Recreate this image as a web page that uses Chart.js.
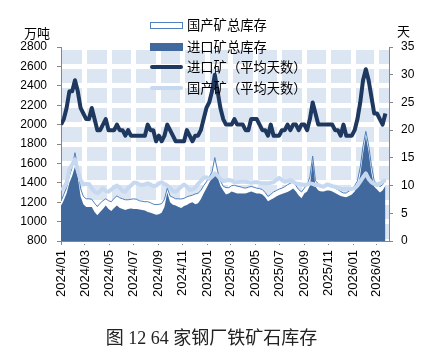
<!DOCTYPE html>
<html><head><meta charset="utf-8">
<script src="https://cdn.jsdelivr.net/npm/chart.js@4.4.1/dist/chart.umd.min.js"></script>
<style>
html,body{margin:0;padding:0;background:#fff;}
#wrap{position:relative;width:423px;height:355px;overflow:hidden;}
canvas{position:absolute;left:0;top:0;}
.t{position:absolute;font-family:"Noto Sans CJK SC";color:#000;white-space:nowrap;line-height:1;}
.row{position:absolute;left:150px;height:14px;display:flex;align-items:center;}
.sym{width:33px;margin-right:4px;box-sizing:border-box;}
.lt{font-family:"Noto Sans CJK SC";font-size:13.3px;line-height:1;color:#000;white-space:nowrap;}
#cap{position:absolute;left:0;width:423px;top:329px;text-align:center;font-family:"Liberation Serif","Noto Sans CJK SC";font-size:18px;line-height:1;color:#222;}
</style></head><body>
<div id="wrap">
<canvas id="c" width="423" height="355"></canvas>
<div class="t" style="left:24px;top:26px;font-size:13px">万吨</div>
<div class="t" style="left:397px;top:24px;font-size:13px">天</div>
<div class="row" style="top:18px"><div class="sym" style="height:7px;background:#fff;border:1px solid #4f81bd"></div><span class="lt">国产矿总库存</span></div>
<div class="row" style="top:40px"><div class="sym" style="height:8px;background:#41699d"></div><span class="lt">进口矿总库存</span></div>
<div class="row" style="top:60px"><div class="sym" style="height:4px;background:#1f3860;border-radius:2px"></div><span class="lt">进口矿（平均天数）</span></div>
<div class="row" style="top:81px"><div class="sym" style="height:4px;background:#c6d9f1;border-radius:2px"></div><span class="lt">国产矿（平均天数）</span></div>
<div id="cap">图 12 64 家钢厂铁矿石库存</div>
</div>
<script>
const dates = [
'2024-01-01','2024-01-08','2024-01-15','2024-01-22','2024-01-29','2024-02-05','2024-02-12','2024-02-19','2024-02-26','2024-03-04',
'2024-03-11','2024-03-18','2024-03-25','2024-04-01','2024-04-08','2024-04-15','2024-04-22','2024-04-29','2024-05-06','2024-05-13',
'2024-05-20','2024-05-27','2024-06-03','2024-06-10','2024-06-17','2024-06-24','2024-07-01','2024-07-08','2024-07-15','2024-07-22',
'2024-07-29','2024-08-05','2024-08-12','2024-08-19','2024-08-26','2024-09-02','2024-09-09','2024-09-16','2024-09-23','2024-09-30',
'2024-10-07','2024-10-14','2024-10-21','2024-10-28','2024-11-04','2024-11-11','2024-11-18','2024-11-25','2024-12-02','2024-12-09',
'2024-12-16','2024-12-23','2024-12-30','2025-01-06','2025-01-13','2025-01-20','2025-01-27','2025-02-03','2025-02-10','2025-02-17',
'2025-02-24','2025-03-03','2025-03-10','2025-03-17','2025-03-24','2025-03-31','2025-04-07','2025-04-14','2025-04-21','2025-04-28',
'2025-05-05','2025-05-12','2025-05-19','2025-05-26','2025-06-02','2025-06-09','2025-06-16','2025-06-23','2025-06-30','2025-07-07',
'2025-07-14','2025-07-21','2025-07-28','2025-08-04','2025-08-11','2025-08-18','2025-08-25','2025-09-01','2025-09-08','2025-09-15',
'2025-09-22','2025-09-29','2025-10-06','2025-10-13','2025-10-20','2025-10-27','2025-11-03','2025-11-10','2025-11-17','2025-11-24',
'2025-12-01','2025-12-08','2025-12-15','2025-12-22','2025-12-29','2026-01-05','2026-01-12','2026-01-19','2026-01-26','2026-02-02',
'2026-02-09','2026-02-16','2026-02-23','2026-03-02','2026-03-09','2026-03-16','2026-03-23'];

// 进口矿（平均天数）, right axis
const importDays = [
21,22,24,27,27,29,27,24,23,22,
22,24,22,20,20,21,22,20,20,20,
21,20,20,19,20,19,19,19,19,19,
19,21,20,20,18,19,18,19,21,20,
19,18,18,18,18,20,19,18,19,19,
20,22,24,25,27,30,27,24,22,21,
21,21,22,21,21,21,20,20,22,22,
22,21,20,20,19,21,19,19,19,20,
20,21,20,21,21,20,21,21,20,22,
25,23,21,21,21,21,21,21,20,20,
19,21,19,19,19,20,22,25,29,31,
29,26,23,23,22,21,23];

// 国产矿（平均天数）, right axis
const domesticDays = [
9.2,9.6,10.5,13.0,13.8,14.7,12.7,11.0,10.2,10.3,
10.3,9.5,8.9,8.6,9.0,9.5,9.0,8.9,9.3,9.7,
10.0,9.6,9.0,8.9,9.6,10.0,10.5,10.5,10.2,10.1,
10.2,10.4,10.2,9.9,10.0,10.4,10.6,10.3,10.0,9.6,
9.0,8.9,9.3,9.8,10.2,9.8,9.2,9.3,9.6,10.3,
10.8,11.4,11.5,11.2,11.6,12.2,11.8,11.2,10.8,10.9,
11.0,10.9,10.6,10.6,10.7,10.7,10.7,10.6,10.5,10.6,
10.6,10.5,10.4,10.4,10.4,10.5,10.6,11.0,11.4,11.0,
10.7,10.8,11.0,10.7,10.4,10.3,10.2,10.1,10.2,10.4,
10.3,10.1,10.1,9.9,9.8,10.2,10.1,9.9,9.8,9.6,
9.4,9.4,9.4,9.4,9.4,9.5,10.0,10.7,11.5,12.2,
11.2,10.6,10.3,10.1,10.4,10.7,11.0];

// 进口矿总库存 (万吨), left axis
const importStock = [
1160,1220,1290,1400,1470,1565,1460,1260,1180,1150,
1150,1150,1100,1065,1100,1130,1165,1130,1110,1140,
1165,1140,1130,1120,1130,1135,1130,1130,1125,1120,
1115,1100,1090,1080,1070,1075,1090,1150,1300,1200,
1175,1165,1150,1140,1160,1170,1190,1200,1180,1190,
1230,1290,1345,1400,1450,1515,1460,1370,1320,1280,
1290,1310,1300,1290,1290,1290,1290,1300,1310,1300,
1290,1290,1280,1250,1210,1225,1240,1260,1275,1285,
1295,1305,1320,1340,1310,1270,1240,1290,1310,1370,
1620,1360,1320,1310,1310,1320,1320,1310,1295,1280,
1265,1255,1250,1265,1280,1310,1360,1480,1700,1880,
1720,1500,1360,1330,1300,1320,1370];

// 国产矿总库存 (万吨), stacked on top, left axis
const domesticStock = [
50,60,60,70,90,145,100,80,80,85,
85,80,90,90,90,85,70,85,95,100,
100,105,105,105,95,95,105,100,90,90,
90,105,105,100,105,103,95,80,45,65,
75,70,85,93,80,85,75,72,105,102,
90,80,65,60,60,145,60,50,45,70,
60,60,75,75,70,60,55,55,52,55,
55,50,50,50,50,55,65,60,60,60,
65,75,75,70,60,60,65,55,70,90,
55,60,70,55,55,55,55,55,50,50,
45,40,45,50,50,60,60,80,80,50,
70,80,60,60,60,60,60];

const tickLabels = ['2024/01','2024/03','2024/05','2024/07','2024/09','2024/11','2025/01','2025/03','2025/05','2025/07','2025/09','2025/11','2026/01','2026/03'];
const axisStart = '2024-01-01', axisEnd = '2026-04-01';

const DAY = 864e5;
const t0 = Date.parse(axisStart);
const toDay = s => (Date.parse(s) - t0) / DAY;
const tickDays = tickLabels.map(l => toDay(l.replace('/', '-') + '-01'));
const pts = arr => arr.map((v, i) => ({x: toDay(dates[i]), y: v}));

const GRAY = '#868686';
const bgPlugin = {id:'plotBg', beforeDraw(chart){
  const {ctx, chartArea:a} = chart;
  ctx.save(); ctx.fillStyle = '#dce6f2'; ctx.fillRect(a.left, a.top, a.width, a.height); ctx.restore();
}};

new Chart(document.getElementById('c'), {
  type: 'line',
  data: { datasets: [
    {label:'进口矿（平均天数）', data: pts(importDays), yAxisID:'y1', borderColor:'#1f3860', borderWidth:4, pointRadius:0, fill:false, order:0, tension:0, borderJoinStyle:'round'},
    {label:'国产矿（平均天数）', data: pts(domesticDays), yAxisID:'y1', borderColor:'#c6d9f1', borderWidth:4, pointRadius:0, fill:false, order:1, tension:0, borderJoinStyle:'round'},
    {label:'进口矿总库存', data: pts(importStock), yAxisID:'y', borderColor:'#41699d', backgroundColor:'#41699d', borderWidth:0, pointRadius:0, fill:'origin', order:2, tension:0},
    {label:'国产矿总库存', data: pts(domesticStock), yAxisID:'y', borderColor:'#4f81bd', backgroundColor:'#ffffff', borderWidth:1, pointRadius:0, fill:'-1', order:3, tension:0}
  ]},
  options: {
    responsive:false, animation:false, devicePixelRatio:1,
    layout:{padding:{top:47, left:0, right:0, bottom:0}},
    plugins:{legend:{display:false}, tooltip:{enabled:false}},
    scales:{
      x:{type:'linear', min:toDay(axisStart), max:toDay(axisEnd),
        afterBuildTicks: s => { s.ticks = tickDays.map(v => ({value:v})); },
        ticks:{autoSkip:false, maxRotation:90, minRotation:90, padding:5, color:'#000',
          font:{family:'Liberation Sans', size:13},
          callback: v => tickLabels[tickDays.indexOf(v)] },
        grid:{color: c => c.index === 0 ? 'rgba(0,0,0,0)' : '#ffffff', lineWidth:5, tickColor:GRAY, tickWidth:1, tickLength:4},
        border:{color:GRAY, width:1},
        afterFit: s => { s.height = 114; }
      },
      y:{position:'left', min:800, max:2800, stacked:true,
        ticks:{stepSize:200, autoSkip:false, padding:10, color:'#000', font:{family:'Liberation Sans', size:12},
          callback: v => String(v)},
        grid:{color:'#ffffff', lineWidth:5, tickColor:GRAY, tickWidth:1, tickLength:4},
        border:{color:GRAY, width:1},
        afterFit: s => { s.width = 61; }
      },
      y1:{position:'right', min:0, max:35, stacked:false,
        ticks:{stepSize:5, autoSkip:false, padding:8, color:'#000', font:{family:'Liberation Sans', size:12},
          callback: v => String(v)},
        grid:{drawOnChartArea:false, tickColor:GRAY, tickWidth:1, tickLength:4},
        border:{color:GRAY, width:1},
        afterFit: s => { s.width = 34; }
      }
    }
  },
  plugins:[bgPlugin]
});
</script>
</body></html>
